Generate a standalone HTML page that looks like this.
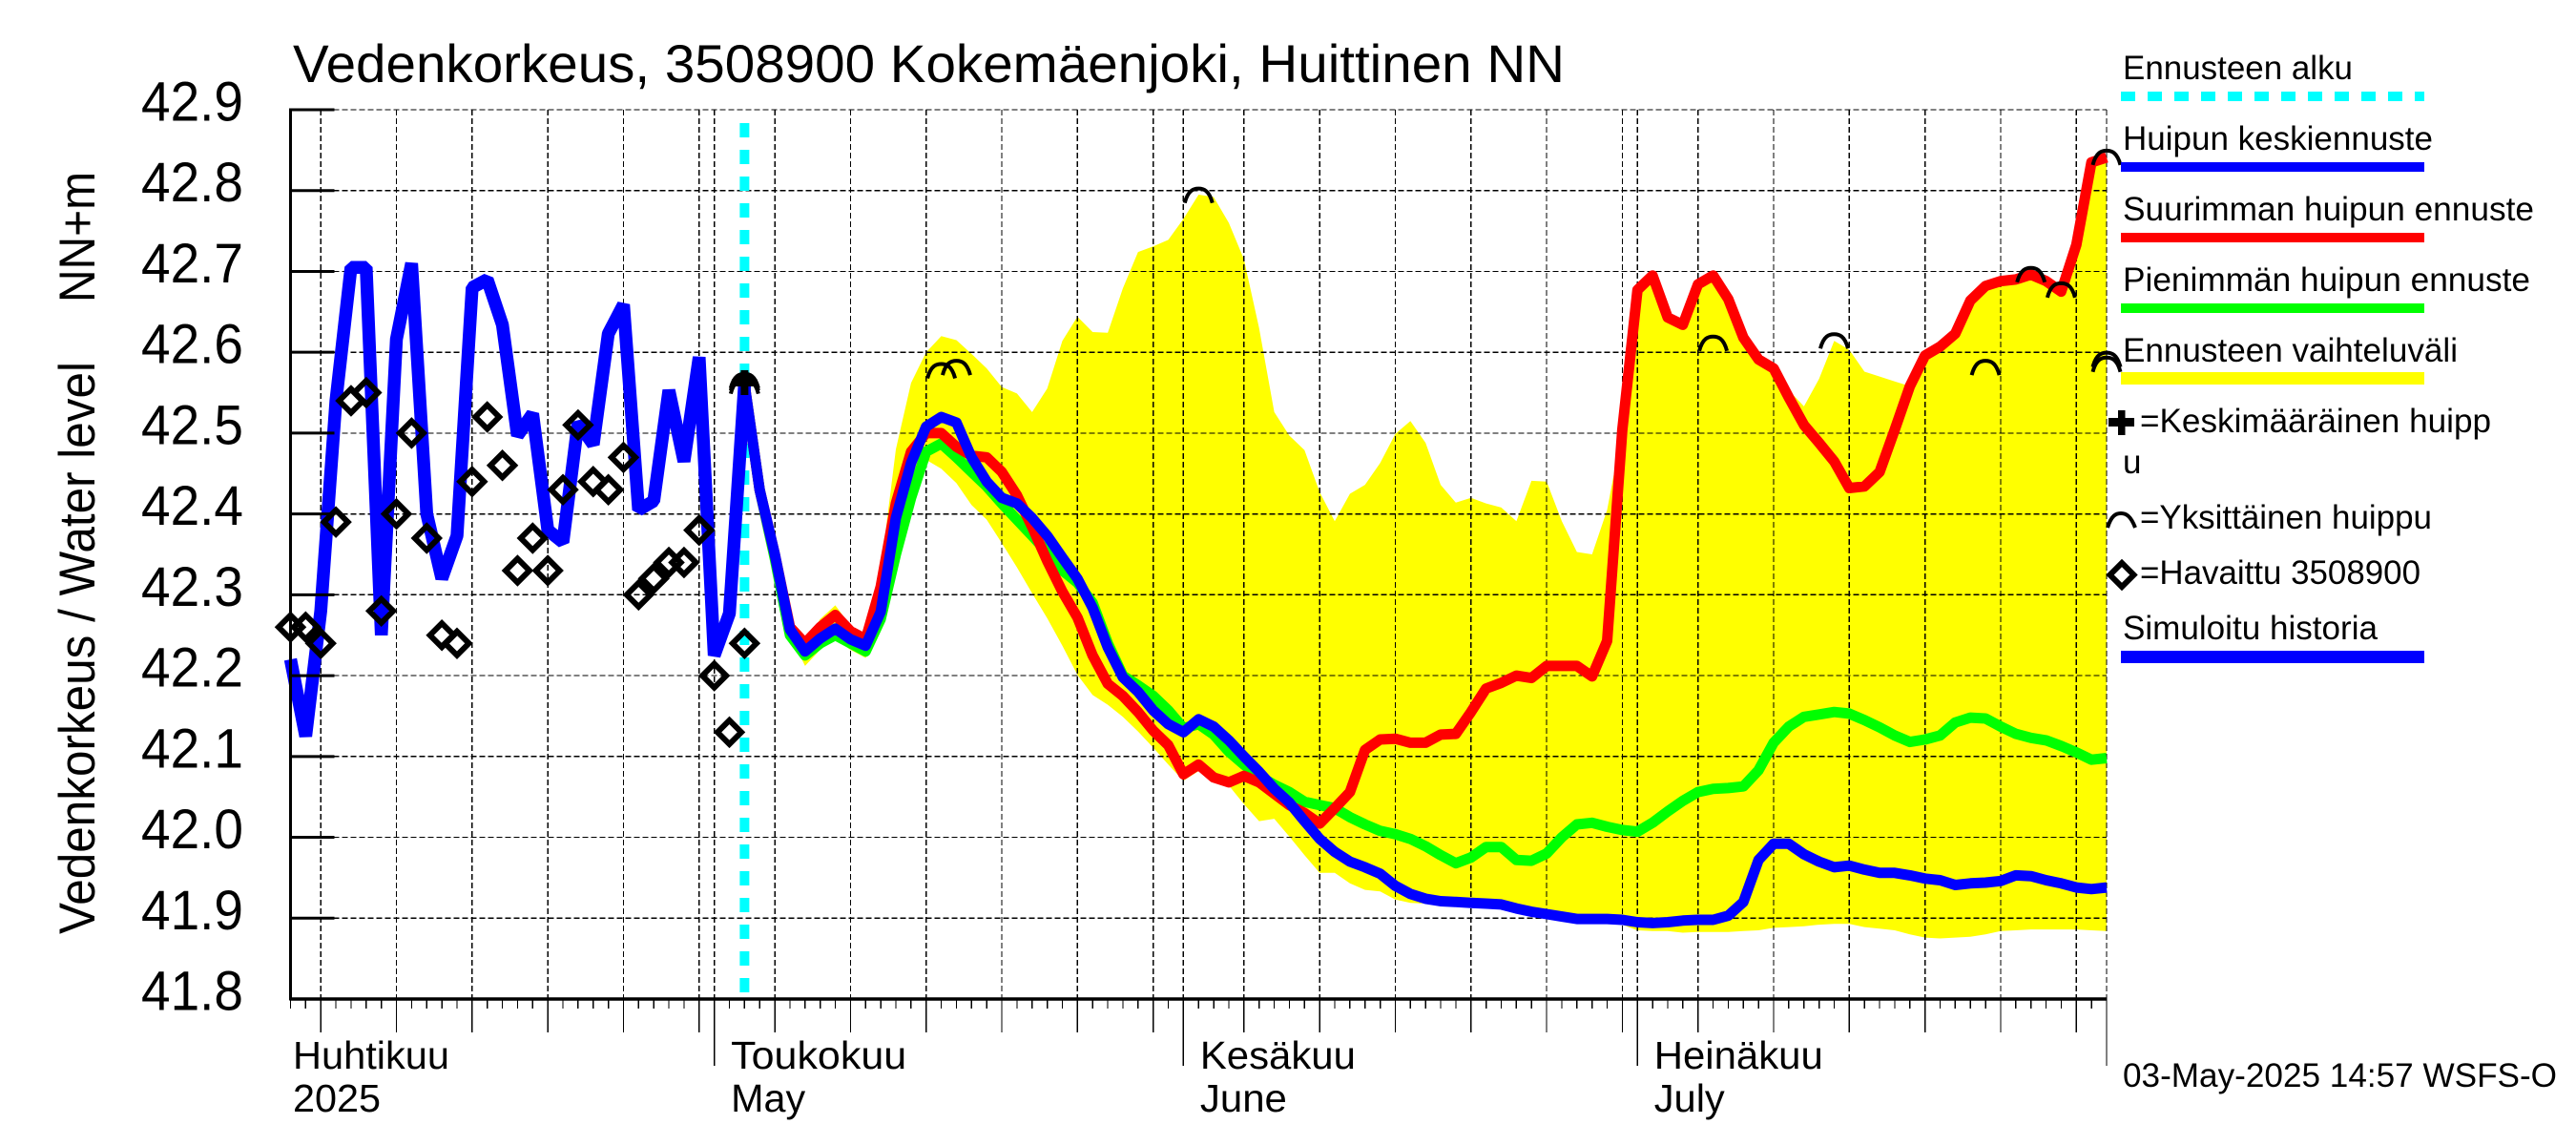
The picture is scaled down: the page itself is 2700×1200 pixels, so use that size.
<!DOCTYPE html>
<html>
<head>
<meta charset="utf-8">
<title>Vedenkorkeus 3508900 Kokemäenjoki, Huittinen NN</title>
<style>
html,body{margin:0;padding:0;background:#fff;}
svg{display:block;}
text{font-family:"Liberation Sans",sans-serif;fill:#000;}
</style>
</head>
<body>
<svg id="chart" xmlns="http://www.w3.org/2000/svg" width="2700" height="1200" viewBox="0 0 2700 1200">
  <rect x="0" y="0" width="2700" height="1200" fill="#ffffff"/>
  <g id="band"></g>
  <g id="grid" shape-rendering="crispEdges"></g>
  <g id="start"></g>
  <g id="lines"></g>
  <g id="marks"></g>
  <g id="axes"></g>

  <text x="307" y="86" font-size="56" textLength="1333" lengthAdjust="spacingAndGlyphs">Vedenkorkeus, 3508900 Kokemäenjoki, Huittinen NN</text>
  <text transform="translate(99,979) rotate(-90)" font-size="53" textLength="600" lengthAdjust="spacingAndGlyphs">Vedenkorkeus / Water level</text>
  <text transform="translate(99,317) rotate(-90)" font-size="53" textLength="137" lengthAdjust="spacingAndGlyphs">NN+m</text>

  <g>
    <text x="2225" y="83" font-size="35" textLength="241" lengthAdjust="spacingAndGlyphs">Ennusteen alku</text>
    <line x1="2223" y1="101" x2="2541" y2="101" stroke="#00ffff" stroke-width="10" stroke-dasharray="15 13"/>
    <text x="2225" y="157" font-size="35" textLength="325" lengthAdjust="spacingAndGlyphs">Huipun keskiennuste</text>
    <rect x="2223" y="170" width="318" height="10" fill="#0000ff"/>
    <text x="2225" y="231" font-size="35" textLength="431" lengthAdjust="spacingAndGlyphs">Suurimman huipun ennuste</text>
    <rect x="2223" y="244" width="318" height="10" fill="#ff0000"/>
    <text x="2225" y="305" font-size="35" textLength="427" lengthAdjust="spacingAndGlyphs">Pienimmän huipun ennuste</text>
    <rect x="2223" y="318" width="318" height="10" fill="#00ff00"/>
    <text x="2225" y="379" font-size="35" textLength="351" lengthAdjust="spacingAndGlyphs">Ennusteen vaihteluväli</text>
    <rect x="2223" y="390" width="318" height="13" fill="#ffff00"/>
    <rect x="2210" y="438" width="27" height="9" fill="#000"/>
    <rect x="2220" y="430" width="7.500" height="26" fill="#000"/>
    <text x="2243" y="453" font-size="35" textLength="368" lengthAdjust="spacingAndGlyphs">=Keskimääräinen huipp</text>
    <text x="2225" y="496" font-size="35">u</text>
    <path d="M2209 553 C2213 540,2218 538,2223 538 C2228 538,2233 540,2238 553" stroke="#000" stroke-width="4" fill="none"/>
    <text x="2243" y="554" font-size="35" textLength="306" lengthAdjust="spacingAndGlyphs">=Yksittäinen huippu</text>
    <path d="M2224 590L2236.500 602.500L2224 615L2211.500 602.500Z" stroke="#000" stroke-width="6" fill="none"/>
    <text x="2243" y="612" font-size="35" textLength="294" lengthAdjust="spacingAndGlyphs">=Havaittu 3508900</text>
    <text x="2225" y="670" font-size="35" textLength="267" lengthAdjust="spacingAndGlyphs">Simuloitu historia</text>
    <rect x="2223" y="682" width="318" height="13" fill="#0000ff"/>
  </g>
  <text x="2225" y="1139" font-size="35" textLength="455" lengthAdjust="spacingAndGlyphs">03-May-2025 14:57 WSFS-O</text>
</svg>
<script>
// ---- data (values in metres NN, daily; day 0 = 3 April 2025) ----
const yTickLabels = ["42.9","42.8","42.7","42.6","42.5","42.4","42.3","42.2","42.1","42.0","41.9","41.8"];
const monthNames = ["Huhtikuu","Toukokuu","Kesäkuu","Heinäkuu"];
const monthNamesEn = ["2025","May","June","July"];
const monthLengths = [30,31,30,31];
const forecastStartDay = 30;

const historyValues = [42.22,42.125,42.28,42.54,42.705,42.705,42.25,42.616,42.71,42.40,
  42.32,42.373,42.68,42.69,42.634,42.497,42.524,42.38,42.365,42.513,
  42.486,42.623,42.659,42.405,42.416,42.553,42.465,42.594,42.225,42.277,42.56];

const observedValues = [42.26,42.26,42.24,42.39,42.54,42.55,42.28,42.40,42.50,42.37,
  42.25,42.24,42.44,42.52,42.46,42.33,42.37,42.33,42.43,42.51,
  42.44,42.43,42.47,42.30,42.32,42.34,42.34,42.38,42.20,42.13,42.24];

// forecast series start at day 30
const meanForecast = [42.56,42.43,42.35,42.257,42.23,42.246,42.258,42.245,42.237,42.279,
  42.395,42.463,42.508,42.52,42.513,42.47,42.44,42.42,42.413,42.395,
  42.373,42.346,42.32,42.284,42.235,42.198,42.18,42.157,42.14,42.13,
  42.146,42.137,42.12,42.10,42.081,42.06,42.043,42.02,41.998,41.982,
  41.97,41.963,41.955,41.94,41.93,41.924,41.921,41.92,41.919,41.918,
  41.917,41.912,41.908,41.905,41.902,41.899,41.899,41.899,41.898,41.895,
  41.894,41.895,41.897,41.898,41.898,41.903,41.92,41.972,41.992,41.992,
  41.979,41.97,41.963,41.965,41.96,41.956,41.956,41.953,41.949,41.947,
  41.941,41.943,41.944,41.946,41.953,41.952,41.947,41.943,41.938,41.936,41.938];

const maxForecast = [42.56,42.43,42.35,42.26,42.24,42.26,42.275,42.255,42.245,42.31,
  42.413,42.477,42.5,42.5,42.483,42.472,42.47,42.452,42.423,42.384,
  42.342,42.304,42.272,42.225,42.19,42.175,42.155,42.132,42.114,42.078,
  42.09,42.074,42.068,42.076,42.068,42.054,42.04,42.03,42.017,42.036,
  42.056,42.108,42.121,42.122,42.117,42.117,42.127,42.128,42.155,42.184,
  42.191,42.2,42.197,42.212,42.212,42.212,42.199,42.243,42.504,42.677,
  42.695,42.643,42.634,42.684,42.695,42.666,42.618,42.591,42.58,42.544,
  42.51,42.488,42.465,42.432,42.434,42.452,42.504,42.558,42.596,42.607,
  42.623,42.664,42.682,42.688,42.69,42.696,42.688,42.675,42.733,42.835,42.841];

const minForecast = [42.56,42.43,42.345,42.25,42.225,42.24,42.25,42.24,42.23,42.27,
  42.35,42.42,42.477,42.487,42.47,42.452,42.434,42.413,42.393,42.373,
  42.353,42.33,42.315,42.29,42.24,42.2,42.188,42.175,42.157,42.135,
  42.14,42.127,42.106,42.09,42.076,42.065,42.056,42.044,42.04,42.036,
  42.025,42.016,42.008,42.004,41.998,41.989,41.978,41.968,41.975,41.988,
  41.988,41.972,41.971,41.98,42.0,42.016,42.018,42.013,42.009,42.007,
  42.018,42.032,42.045,42.056,42.06,42.061,42.063,42.083,42.117,42.137,
  42.149,42.152,42.155,42.153,42.145,42.136,42.126,42.118,42.121,42.126,
  42.142,42.148,42.147,42.137,42.128,42.123,42.12,42.113,42.105,42.096,42.098];

const rangeUpper = [42.56,42.43,42.35,42.262,42.24,42.27,42.287,42.262,42.25,42.33,
  42.48,42.562,42.6,42.62,42.615,42.598,42.58,42.557,42.549,42.526,
  42.555,42.614,42.644,42.625,42.624,42.679,42.724,42.731,42.739,42.765,
  42.795,42.792,42.76,42.715,42.63,42.526,42.497,42.479,42.427,42.391,
  42.425,42.436,42.463,42.499,42.515,42.488,42.436,42.414,42.42,42.413,
  42.408,42.391,42.441,42.44,42.391,42.353,42.35,42.405,42.504,42.677,
  42.695,42.643,42.634,42.684,42.695,42.666,42.618,42.591,42.58,42.553,
  42.533,42.567,42.614,42.603,42.576,42.57,42.564,42.558,42.596,42.607,
  42.623,42.664,42.682,42.688,42.69,42.7,42.688,42.68,42.733,42.835,42.841];

const rangeLower = [42.56,42.425,42.34,42.25,42.212,42.232,42.245,42.232,42.222,42.255,
  42.33,42.409,42.467,42.456,42.438,42.411,42.393,42.364,42.334,42.302,
  42.271,42.237,42.201,42.176,42.164,42.149,42.131,42.111,42.09,42.07,
  42.082,42.07,42.064,42.041,42.02,42.023,42.001,41.978,41.956,41.956,
  41.943,41.935,41.933,41.923,41.919,41.918,41.917,41.917,41.915,41.914,
  41.912,41.908,41.903,41.9,41.897,41.894,41.894,41.894,41.892,41.885,
  41.884,41.884,41.882,41.883,41.883,41.883,41.884,41.885,41.888,41.889,
  41.89,41.892,41.893,41.893,41.889,41.887,41.885,41.88,41.876,41.875,
  41.876,41.877,41.88,41.884,41.885,41.886,41.886,41.886,41.886,41.885,41.884];

const peakDays = [30,30,30,43,44,60,94,102,112,115,117,120,120,120];
const peakValues = [42.574,42.571,42.567,42.586,42.59,42.803,42.62,42.623,42.59,42.705,42.686,42.85,42.6,42.594];
const meanPeakDay = 30;
const meanPeakValue = 42.5625;

// ---- scales ----
const plotLeft = 304.5, plotRight = 2208, plotTop = 115, plotBottom = 1047;
const totalDays = 120, yMax = 42.9, yMin = 41.8;
function xAt(day){ return plotLeft + day * (plotRight - plotLeft) / totalDays; }
function yAt(v){ return plotTop + (yMax - v) * (plotBottom - plotTop) / (yMax - yMin); }

const NS = "http://www.w3.org/2000/svg";
function make(tag, parent, attrs){
  const el = document.createElementNS(NS, tag);
  for (const k in attrs) el.setAttribute(k, attrs[k]);
  parent.appendChild(el);
  return el;
}
function pointsFrom(values, startDay){
  return values.map(function(v, i){ return xAt(startDay + i).toFixed(1) + "," + yAt(v).toFixed(1); });
}

const bandG = document.getElementById("band");
const gridG = document.getElementById("grid");
const startG = document.getElementById("start");
const linesG = document.getElementById("lines");
const marksG = document.getElementById("marks");
const axesG = document.getElementById("axes");

// range band
const upperPts = pointsFrom(rangeUpper, forecastStartDay);
const lowerPts = pointsFrom(rangeLower, forecastStartDay).reverse();
const bandEl = make("polygon", bandG, {points: upperPts.concat(lowerPts).join(" "), fill: "#ffff00"});



// month starts in day units (day 0 = 3 April, so 1 April = -2)
const monthStarts = [];
let cursor = -2;
for (let m = 0; m < monthLengths.length; m++){
  monthStarts.push(cursor);
  cursor += monthLengths[m];
}
monthStarts.push(cursor);

// horizontal grid and y ticks
yTickLabels.forEach(function(label){
  const v = parseFloat(label);
  const y = yAt(v);
  if (v > yMin){
    const g = make("line", gridG, {x1: plotLeft, x2: plotRight, y1: y, y2: y, stroke: "#000", "stroke-width": 1.3, "stroke-dasharray": "6 3"});
    
    
    const t = make("line", axesG, {x1: plotLeft, x2: plotLeft + 46, y1: y, y2: y, stroke: "#000", "stroke-width": 3});
    
    
  }
  const txt = make("text", axesG, {x: 148, y: y + 11.5, "font-size": 58, textLength: 107, lengthAdjust: "spacingAndGlyphs"});
  txt.textContent = label;
  
  
});

// vertical grid and x ticks
for (let m = 0; m < monthLengths.length; m++){
  for (let dom = 1; dom <= monthLengths[m]; dom++){
    const day = monthStarts[m] + dom - 1;
    if (day < 0) continue;
    const x = xAt(day);
    const isMonth = dom === 1;
    const isMajor = dom % 5 === 0 && dom <= 30;
    let len = 10;
    if (isMajor) len = 35;
    if (isMonth) len = 70;
    const tick = make("line", axesG, {x1: x, x2: x, y1: plotBottom, y2: plotBottom + len, stroke: "#000", "stroke-width": 1.3, "shape-rendering": "crispEdges"});
    
    
    if (isMonth || isMajor){
      const g = make("line", gridG, {x1: x, x2: x, y1: plotTop, y2: plotBottom, stroke: "#000", "stroke-width": 1.3, "stroke-dasharray": "6 3"});
      
      
    }
  }
}
const endX = xAt(totalDays);
const endTick = make("line", axesG, {x1: endX, x2: endX, y1: plotBottom, y2: plotBottom + 70, stroke: "#000", "stroke-width": 1.3, "shape-rendering": "crispEdges"});


const endGrid = make("line", gridG, {x1: endX, x2: endX, y1: plotTop, y2: plotBottom, stroke: "#000", "stroke-width": 1.3, "stroke-dasharray": "6 3"});



// axes
const yAxisLine = make("line", axesG, {x1: plotLeft, x2: plotLeft, y1: plotTop - 1.5, y2: plotBottom + 1.5, stroke: "#000", "stroke-width": 3});


const xAxisLine = make("line", axesG, {x1: plotLeft, x2: plotRight, y1: plotBottom, y2: plotBottom, stroke: "#000", "stroke-width": 3.4});



// month labels: first label sits at the plot's left edge, others just right of the month tick
const labelWidthsFi = [164,184,163,177];
const labelWidthsEn = [92,78,91,74];
monthNames.forEach(function(name, i){
  const base = i === 0 ? xAt(0) + 2.5 : xAt(monthStarts[i]) + 17.5;
  const t1 = make("text", axesG, {x: base, y: 1120, "font-size": 41, textLength: labelWidthsFi[i], lengthAdjust: "spacingAndGlyphs"});
  t1.textContent = name;
  
  
  const t2 = make("text", axesG, {x: base, y: 1165, "font-size": 41, textLength: labelWidthsEn[i], lengthAdjust: "spacingAndGlyphs"});
  t2.textContent = monthNamesEn[i];
  
  
});

// forecast start line
const startX = xAt(forecastStartDay);
const startLine = make("line", startG, {x1: startX, x2: startX, y1: 129, y2: plotBottom, stroke: "#00ffff", "stroke-width": 10, "stroke-dasharray": "15 13"});



// series
const minLine = make("polyline", linesG, {points: pointsFrom(minForecast, forecastStartDay).join(" "), fill: "none", stroke: "#00ff00", "stroke-width": 11, "stroke-linejoin": "round"});


const maxLine = make("polyline", linesG, {points: pointsFrom(maxForecast, forecastStartDay).join(" "), fill: "none", stroke: "#ff0000", "stroke-width": 11, "stroke-linejoin": "round"});


const meanLine = make("polyline", linesG, {points: pointsFrom(meanForecast, forecastStartDay).join(" "), fill: "none", stroke: "#0000ff", "stroke-width": 11, "stroke-linejoin": "round"});


const historyLine = make("polyline", linesG, {points: pointsFrom(historyValues, 0).join(" "), fill: "none", stroke: "#0000ff", "stroke-width": 13.5, "stroke-linejoin": "bevel"});



// observed diamonds
observedValues.forEach(function(v, i){
  const x = xAt(i), y = yAt(v);
  const d = make("path", marksG, {d: "M" + x + " " + (y - 12.5) + "L" + (x + 12.5) + " " + y + "L" + x + " " + (y + 12.5) + "L" + (x - 12.5) + " " + y + "Z", fill: "none", stroke: "#000", "stroke-width": 6});
  
  
});

// mean-peak plus marker
const plusX = xAt(meanPeakDay), plusY = yAt(meanPeakValue);
const plusMark = make("path", marksG, {d: "M" + (plusX - 13) + " " + plusY + "H" + (plusX + 13) + "M" + plusX + " " + (plusY - 13) + "V" + (plusY + 13), fill: "none", stroke: "#000", "stroke-width": 8});



// single-peak arcs (apex at the value)
peakDays.forEach(function(day, i){
  const x = xAt(day), y = yAt(peakValues[i]);
  const a = make("path", marksG, {d: "M" + (x - 14.5) + " " + (y + 15.5) + "C" + (x - 11) + " " + (y + 2) + "," + (x - 5) + " " + (y + 0.5) + "," + x + " " + (y + 0.5) + "C" + (x + 5) + " " + (y + 0.5) + "," + (x + 11) + " " + (y + 2) + "," + (x + 14.5) + " " + (y + 15.5), fill: "none", stroke: "#000", "stroke-width": 4});
  
  
});
</script>
</body>
</html>
